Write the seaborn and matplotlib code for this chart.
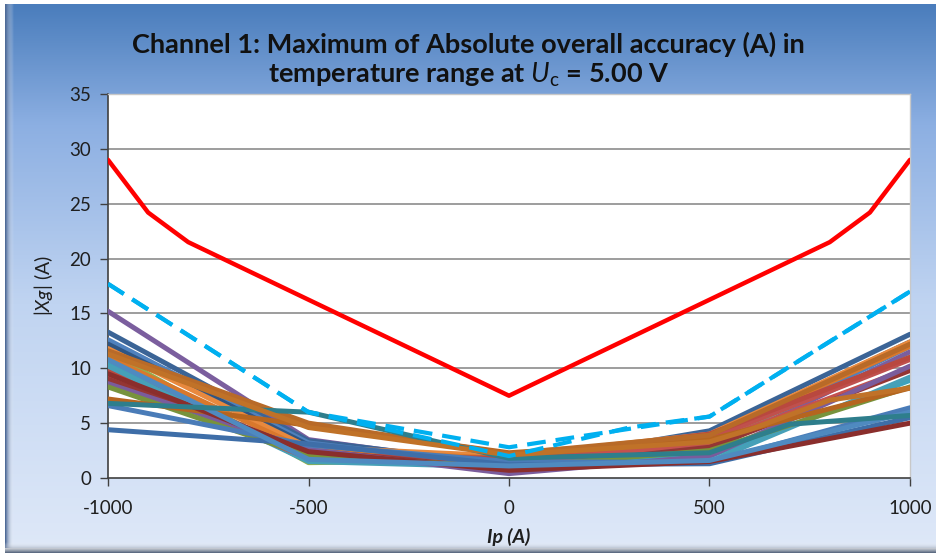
import numpy as np
import pandas as pd
import matplotlib
matplotlib.use("Agg")
import matplotlib.pyplot as plt
import seaborn as sns
from matplotlib.colors import LinearSegmentedColormap

# ---------------- data ----------------
IP5 = [-1000, -500, 0, 500, 1000]

red_ip = [-1000, -900, -800, 0, 800, 900, 1000]
red_val = [29.0, 24.2, 21.5, 7.5, 21.5, 24.2, 29.0]

dash1_ip = [-1000, -500, 0, 500, 1000]
dash1_val = [17.7, 6.0, 2.8, 5.6, 17.0]
dash2_ip = [-1000, -500, -50, 0, 300, 500, 1000]
dash2_val = [17.7, 6.0, 2.4, 2.0, 4.6, 5.6, 17.0]

s01 = [15.2, 3.5, 1.0, 2.5, 11.5]
s02 = [13.3, 3.4, 1.2, 4.3, 13.1]
s03 = [12.6, 3.2, 1.0, 3.0, 12.0]
s04 = [12.2, 3.0, 0.9, 3.8, 12.4]
s05 = [11.8, 2.8, 2.0, 4.0, 12.4]
s06 = [11.5, 1.4, 1.6, 3.5, 11.0]
s07 = [11.0, 2.5, 1.8, 3.8, 12.0]
s08 = [10.5, 1.6, 1.2, 2.0, 8.9]
s09 = [10.0, 2.2, 1.5, 3.6, 10.8]
s10 = [9.7, 2.0, 1.8, 4.0, 11.0]
s11 = [10.2, 1.5, 1.0, 1.5, 9.2]
s12 = [9.3, 1.8, 1.3, 3.2, 10.0]
s13 = [9.0, 2.5, 0.8, 2.8, 9.8]
s14 = [8.6, 2.6, 0.4, 2.0, 10.2]
s15 = [8.3, 2.0, 1.0, 2.5, 8.3]
s16 = [7.2, 4.8, 2.3, 3.5, 8.2]
s17 = [11.6, 5.0, 2.2, 3.9, 12.2]
s18 = [6.6, 3.0, 1.5, 1.4, 6.4]
s19 = [4.4, 3.1, 1.2, 1.3, 5.5]
s20 = [9.5, 2.4, 0.7, 1.5, 5.0]
s21 = [10.8, 1.7, 1.1, 1.6, 6.0]

teal_ip = [-1000, -500, 0, 500, 700, 1000]
teal_val = [6.8, 6.0, 1.8, 2.3, 4.9, 5.7]

brown_ip = [-1000, -500, 0, 500, 600, 800, 1000]
brown_val = [11.3, 4.6, 2.1, 3.3, 4.4, 7.1, 8.2]

series_vals = {
    "s01": s01, "s02": s02, "s03": s03, "s04": s04, "s05": s05, "s06": s06,
    "s07": s07, "s08": s08, "s09": s09, "s10": s10, "s11": s11, "s12": s12,
    "s13": s13, "s14": s14, "s15": s15, "s16": s16, "s17": s17, "s18": s18,
    "s19": s19, "s20": s20, "s21": s21,
}
palette = {
    "s01": "#7B5E9E", "s02": "#3B6496", "s03": "#4F81BD", "s04": "#2F5583",
    "s05": "#E8893E", "s06": "#8FB04F", "s07": "#D9782C", "s08": "#3DA3BD",
    "s09": "#C0504D", "s10": "#B9483F", "s11": "#46A0B8", "s12": "#C4514F",
    "s13": "#943634", "s14": "#7A5C9C", "s15": "#77933C", "s16": "#B5651F",
    "s17": "#B86A28", "s18": "#4A7CB8", "s19": "#3E6EA8", "s20": "#8A2E2C",
    "s21": "#4F8AC0", "teal": "#2E7E8C", "brown": "#C07228",
}

rows = []
for name, vals in series_vals.items():
    for x, y in zip(IP5, vals):
        rows.append((name, x, y))
for x, y in zip(teal_ip, teal_val):
    rows.append(("teal", x, y))
for x, y in zip(brown_ip, brown_val):
    rows.append(("brown", x, y))
df = pd.DataFrame(rows, columns=["series", "Ip", "Xg"])

df_red = pd.DataFrame({"Ip": red_ip, "Xg": red_val})
df_d1 = pd.DataFrame({"Ip": dash1_ip, "Xg": dash1_val})
df_d2 = pd.DataFrame({"Ip": dash2_ip, "Xg": dash2_val})

# ---------------- figure ----------------
sns.set_theme(style="white")
plt.rcParams["font.family"] = ["Lato", "DejaVu Sans"]
plt.rcParams["axes.unicode_minus"] = False
plt.rcParams["mathtext.fontset"] = "custom"
plt.rcParams["mathtext.it"] = "Lato:italic"
plt.rcParams["mathtext.rm"] = "Lato"
plt.rcParams["mathtext.bf"] = "Lato:bold"

W, H = 937, 556
fig = plt.figure(figsize=(W / 100, H / 100), dpi=100)
fig.patch.set_facecolor("white")

# background gradient
bg = fig.add_axes([0, 0, 1, 1], zorder=-10)
bg.set_xlim(0, W)
bg.set_ylim(H, 0)
bg.axis("off")
cmap = LinearSegmentedColormap.from_list(
    "bgc",
    [(0.0, (74/255, 125/255, 188/255)),
     (0.22, (140/255, 175/255, 226/255)),
     (0.55, (192/255, 212/255, 241/255)),
     (1.0, (222/255, 232/255, 248/255))])
grad = np.linspace(0, 1, 256).reshape(-1, 1)
bg.imshow(grad, cmap=cmap, aspect="auto", extent=(6, W, 548, 4), zorder=0)
# left shadow edge
edge = np.linspace(0, 1, 64).reshape(1, -1)
cm_edge = LinearSegmentedColormap.from_list(
    "edge", [(0, (60/255, 90/255, 140/255, 1.0)), (1, (1, 1, 1, 0.0))])
bg.imshow(edge, cmap=cm_edge, aspect="auto", extent=(5, 14, 548, 4), zorder=1)
# bottom shadow edge
edgeb = np.linspace(0, 1, 64).reshape(-1, 1)
cm_edgeb = LinearSegmentedColormap.from_list(
    "edgeb", [(0, (1, 1, 1, 0.0)), (1, (80/255, 95/255, 120/255, 1.0))])
bg.imshow(edgeb, cmap=cm_edgeb, aspect="auto", extent=(5, W, 553, 542), zorder=1)

# plot area
left, right, top, bottom = 108, 910, 94, 478
ax = fig.add_axes([left / W, 1 - bottom / H, (right - left) / W, (bottom - top) / H])
ax.set_facecolor("white")

sns.lineplot(data=df, x="Ip", y="Xg", hue="series", palette=palette,
             linewidth=3.6, legend=False, sort=False, ax=ax, zorder=3,
             estimator=None)
sns.lineplot(data=df_d2, x="Ip", y="Xg", color="#00B0F0", linewidth=3.0,
             sort=False, ax=ax, zorder=4, estimator=None)
sns.lineplot(data=df_d1, x="Ip", y="Xg", color="#00B0F0", linewidth=3.0,
             sort=False, ax=ax, zorder=4, estimator=None)
for ln in ax.lines[-2:]:
    ln.set_linestyle((0, (4.5, 2.4)))
sns.lineplot(data=df_red, x="Ip", y="Xg", color="#FF0000", linewidth=3.2,
             sort=False, ax=ax, zorder=5, estimator=None)

ax.set_xlim(-1000, 1000)
ax.set_ylim(0, 35)
ax.set_xticks([-1000, -500, 0, 500, 1000])
ax.set_yticks(np.arange(0, 36, 5))
for yv in range(5, 35, 5):
    ax.axhline(yv, color="#8C8C8C", linewidth=1.2, zorder=1)

for s in ["top", "right"]:
    ax.spines[s].set_color("#C8C8C8")
    ax.spines[s].set_linewidth(1.0)
for s in ["left", "bottom"]:
    ax.spines[s].set_color("#404040")
    ax.spines[s].set_linewidth(1.2)

ax.tick_params(axis="both", direction="out", length=6, width=1.0,
               color="#404040", labelsize=13.5, labelcolor="#1F1F1F", pad=6)
ax.tick_params(axis="x", pad=10)
ax.tick_params(left=True, bottom=True)

ax.set_xlabel("Ip (A)", fontsize=14, fontstyle="italic", fontweight="bold",
              color="#1F1F1F", labelpad=8)
ax.set_ylabel(r"$|Xg|$ (A)", fontsize=14, color="#1F1F1F", labelpad=10)

fig.text(0.5, 1 - 44 / H,
         "Channel 1: Maximum of Absolute overall accuracy (A) in",
         ha="center", va="center", fontsize=19.5, fontweight="bold", color="#111111")
fig.text(0.5, 1 - 75 / H,
         r"temperature range at $\mathbf{\mathit{U}}_{\mathrm{c}}$ = 5.00 V",
         ha="center", va="center", fontsize=19.5, fontweight="bold", color="#111111")

fig.savefig("out.png", dpi=100)
